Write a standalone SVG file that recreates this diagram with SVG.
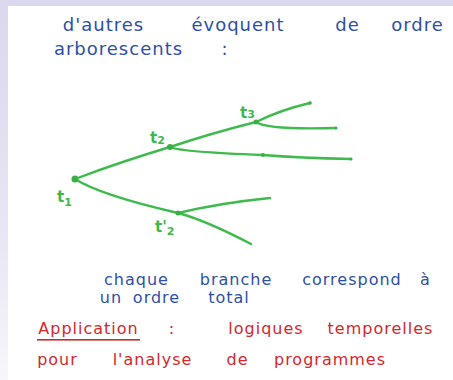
<svg xmlns="http://www.w3.org/2000/svg" width="453" height="380" viewBox="0 0 453 380">
<defs>
<linearGradient id="side" x1="0" y1="0" x2="0" y2="1">
<stop offset="0" stop-color="#d9d8ee"/>
<stop offset="0.6" stop-color="#e6e6f4"/>
<stop offset="1" stop-color="#f6f6fb"/>
</linearGradient>
<style>
.blue{fill:#2d4fa8;font-family:"DejaVu Sans",Verdana,sans-serif;text-anchor:middle;letter-spacing:1px;}
.red{fill:#d2282e;font-family:"DejaVu Sans",Verdana,sans-serif;text-anchor:middle;letter-spacing:1px;}
.lbl{fill:#3db84a;font-family:"DejaVu Sans",Verdana,sans-serif;font-size:15px;font-weight:bold;}
.edge{fill:none;stroke:#3fba4c;stroke-width:2.4;stroke-linecap:round;}
.dot{fill:#3aae47;}
</style>
</defs>
<rect x="0" y="0" width="453" height="380" fill="#ffffff"/>
<rect x="0" y="0" width="453" height="6" fill="#d9d8ee"/>
<rect x="0" y="0" width="8" height="380" fill="url(#side)"/>

<g id="text-top" class="blue" font-size="18">
<text x="103.5" y="31">d'autres</text>
<text x="238" y="31">évoquent</text>
<text x="347.5" y="31">de</text>
<text x="417.5" y="31">ordre</text>
<text x="118.5" y="55">arborescents</text>
<text x="225" y="55">:</text>
</g>

<g id="connectors">
<path class="edge" d="M75,179 Q120,162 170,147"/>
<path class="edge" d="M170,147 Q212,133 256,122"/>
<path class="edge" d="M256,122 Q280,110 310,103"/>
<path class="edge" d="M256,122 Q268,130 336,128"/>
<path class="edge" d="M170,147 Q180,152 263,155"/>
<path class="edge" d="M263,155 Q300,158 351,159"/>
<path class="edge" d="M75,179 Q100,195 178,213" stroke-width="3"/>
<path class="edge" d="M178,213 Q220,203 270,198"/>
<path class="edge" d="M178,213 Q205,220 251,244"/>
</g>

<g id="node-t1">
<circle class="dot" cx="75" cy="179" r="3.5"/>
<text class="lbl" x="57" y="202">t<tspan font-size="11" dy="4">1</tspan></text>
</g>
<g id="node-t2">
<circle class="dot" cx="170" cy="147" r="3"/>
<text class="lbl" x="150" y="143">t<tspan font-size="11" dy="1">2</tspan></text>
</g>
<g id="node-t3">
<circle class="dot" cx="256" cy="122" r="2.5"/>
<text class="lbl" x="240" y="118">t<tspan font-size="11" dy="0">3</tspan></text>
</g>
<g id="node-t2prime">
<circle class="dot" cx="178" cy="213" r="2.5"/>
<text class="lbl" x="155" y="232">t'<tspan font-size="11" dy="3">2</tspan></text>
</g>
<g id="node-mid">
<circle class="dot" cx="263" cy="155" r="2"/>
</g>
<g id="node-ends">
<circle class="dot" cx="310" cy="103" r="1.8"/>
<circle class="dot" cx="336" cy="128" r="1.5"/>
<circle class="dot" cx="351" cy="159" r="1.5"/>
</g>

<g id="text-middle" class="blue" font-size="16">
<text x="136.5" y="285">chaque</text>
<text x="236" y="285">branche</text>
<text x="352" y="285">correspond</text>
<text x="425.5" y="285">à</text>
<text x="111" y="303">un</text>
<text x="156.5" y="303">ordre</text>
<text x="229" y="303">total</text>
</g>

<g id="text-bottom" class="red" font-size="16">
<text x="88.5" y="334">Application</text>
<rect x="37" y="339" width="103" height="1.6" fill="#d2282e"/>
<text x="172" y="334">:</text>
<text x="266" y="334">logiques</text>
<text x="380.5" y="334">temporelles</text>
<text x="57.5" y="365">pour</text>
<text x="152.5" y="365">l'analyse</text>
<text x="237.5" y="365">de</text>
<text x="330" y="365">programmes</text>
</g>
</svg>
